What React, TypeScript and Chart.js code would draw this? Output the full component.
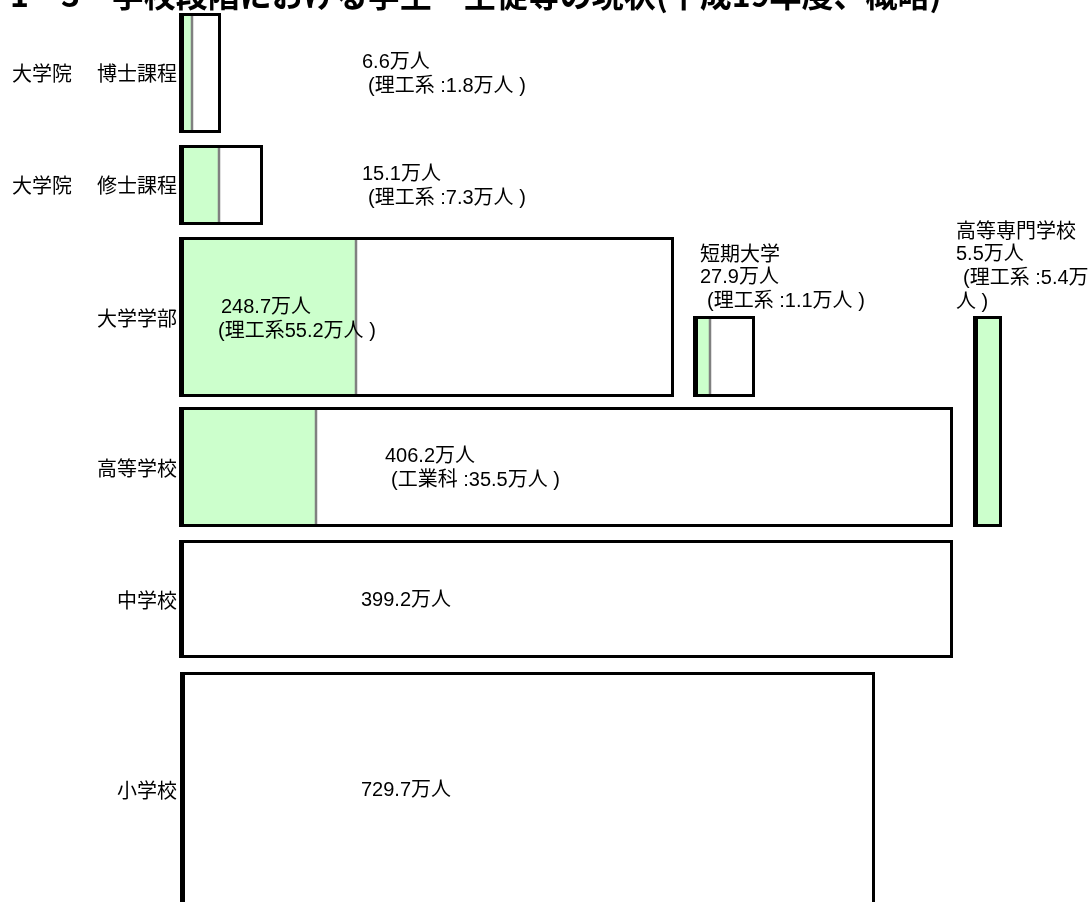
import React, { useEffect, useRef } from 'react';
import { Chart, registerables } from 'chart.js';

Chart.register(...registerables);

// ---------- data ----------
const TITLE = '1－3　学校段階における学生・生徒等の現状(平成19年度、概略)';
const levels = ['博士課程', '修士課程', '大学学部', '高等学校', '中学校', '小学校', '短期大学', '高等専門学校'];
const levelPrefix = ['大学院', '大学院', '', '', '', '', '', ''];
const totals = [6.6, 15.1, 248.7, 406.2, 399.2, 729.7, 27.9, 5.5];
const stemValues: (number | null)[] = [1.8, 7.3, 55.2, 35.5, null, null, 1.1, 5.4];
const stemNames = ['理工系', '理工系', '理工系', '工業科', '', '', '理工系', '理工系'];

// ---------- layout (chart scale units) ----------
const boxLeft = [179, 179, 179, 179, 179, 180, 693, 973];
const boxRight = [221, 263, 674, 953, 953, 875, 755, 1002];
const boxTop = [13, 145, 237, 407, 540, 672, 316, 316];
const boxBottom = [133, 225, 397, 527, 658, 912, 397, 527];
const greenEnd: (number | null)[] = [192, 219, 356, 316, null, null, 710, 1002];
const rowLabelY = [73, 185, 318, 468, 600, 790];
const valueX = [362, 362, 221, 385, 361, 361, 700, 956];
const valueY = [62, 174, 307, 456, 600, 790, 253, 230];

const GREEN = '#CCFFCC';
const FONT_VAL = '20px "Liberation Sans", "Noto Sans CJK JP", sans-serif';
const FONT_ROW = '20px "Noto Sans CJK JP", "Liberation Sans", sans-serif';

function labelLines(i: number): { t: string; dx: number }[] {
  const total = `${totals[i]}万人`;
  const s = stemValues[i];
  const name = levels[i];
  if (i === 2) return [{ t: total, dx: 0 }, { t: `(${stemNames[i]}${s}万人 )`, dx: -3 }];
  if (i === 6) return [{ t: name, dx: 0 }, { t: total, dx: 0 }, { t: `(${stemNames[i]} :${s}万人 )`, dx: 7 }];
  if (i === 7)
    return [
      { t: name, dx: 0 },
      { t: total, dx: 0 },
      { t: `(${stemNames[i]} :${s}万`, dx: 7 },
      { t: '人 )', dx: 0 },
    ];
  if (s == null) return [{ t: total, dx: 0 }];
  return [{ t: total, dx: 0 }, { t: `(${stemNames[i]} :${s}万人 )`, dx: 6 }];
}

const textPlugin = {
  id: 'schoolTexts',
  afterDatasetsDraw(chart: any) {
    const { ctx, scales } = chart;
    const xs = scales.x;
    const ys = scales.y;
    ctx.save();
    ctx.fillStyle = '#000';
    // title (top part cut off in the original)
    ctx.font = 'bold 32px "Noto Sans CJK JP", "Liberation Sans", sans-serif';
    ctx.textAlign = 'left';
    ctx.textBaseline = 'middle';
    ctx.fillText(TITLE, xs.getPixelForValue(10), ys.getPixelForValue(-5));

    // row labels
    ctx.font = FONT_ROW;
    for (let i = 0; i < rowLabelY.length; i++) {
      const yy = ys.getPixelForValue(rowLabelY[i]);
      ctx.textAlign = 'right';
      ctx.fillText(levels[i], xs.getPixelForValue(177), yy);
      if (levelPrefix[i]) {
        ctx.textAlign = 'left';
        ctx.fillText(levelPrefix[i], xs.getPixelForValue(12), yy);
      }
    }

    // value labels
    ctx.textAlign = 'left';
    for (let i = 0; i < levels.length; i++) {
      const lines = labelLines(i);
      const lineFont = i >= 6 ? [FONT_ROW, FONT_VAL, FONT_VAL, FONT_VAL] : null;
      lines.forEach((ln, k) => {
        ctx.font = lineFont ? lineFont[k] : FONT_VAL;
        ctx.fillText(ln.t, xs.getPixelForValue(valueX[i] + ln.dx), ys.getPixelForValue(valueY[i] + k * 24));
      });
    }
    ctx.restore();
  },
};

export default function App() {
  const ref = useRef<HTMLCanvasElement | null>(null);
  useEffect(() => {
    if (!ref.current) return;
    const datasets: any[] = [];
    const base = { showLine: true, pointRadius: 0, pointHoverRadius: 0, tension: 0 };
    levels.forEach((_, i) => {
      const L = boxLeft[i];
      const R = boxRight[i];
      const T = boxTop[i];
      const B = boxBottom[i];
      const G = greenEnd[i];
      if (G != null) {
        datasets.push({
          ...base,
          data: [
            { x: L, y: T },
            { x: G, y: T },
          ],
          fill: { value: B },
          backgroundColor: GREEN,
          borderColor: GREEN,
          borderWidth: 0,
          order: 4,
        });
        if (G < R) {
          datasets.push({
            ...base,
            data: [
              { x: G, y: T },
              { x: G, y: B },
            ],
            fill: false,
            borderColor: '#808080',
            borderWidth: 2.5,
            order: 3,
          });
        }
      }
      const h = 1.5;
      datasets.push({
        ...base,
        data: [
          { x: L + h, y: T + h },
          { x: R - h, y: T + h },
          { x: R - h, y: B - h },
          { x: L + h, y: B - h },
          { x: L + h, y: T + h },
          { x: R - h, y: T + h },
        ],
        fill: false,
        borderColor: '#000',
        borderWidth: 3,
        borderJoinStyle: 'miter',
        order: 2,
      });
      datasets.push({
        ...base,
        data: [
          { x: L + 2.5, y: T },
          { x: L + 2.5, y: B },
        ],
        fill: false,
        borderColor: '#000',
        borderWidth: 5,
        order: 1,
      });
    });

    const chart = new Chart(ref.current, {
      type: 'scatter',
      data: { datasets },
      options: {
        animation: false,
        responsive: false,
        events: [],
        layout: { padding: 0 },
        plugins: { legend: { display: false }, tooltip: { enabled: false }, title: { display: false } },
        scales: {
          x: { type: 'linear', min: 0, max: 1090, display: false },
          y: { type: 'linear', min: 0, max: 902, reverse: true, display: false },
        },
      },
      plugins: [textPlugin],
    } as any);
    return () => chart.destroy();
  }, []);

  return (
    <div style={{ position: 'fixed', left: 0, top: 0, width: 1090, height: 902, background: '#fff' }}>
      <canvas ref={ref} width={1090} height={902} style={{ display: 'block', width: 1090, height: 902 }} />
    </div>
  );
}
